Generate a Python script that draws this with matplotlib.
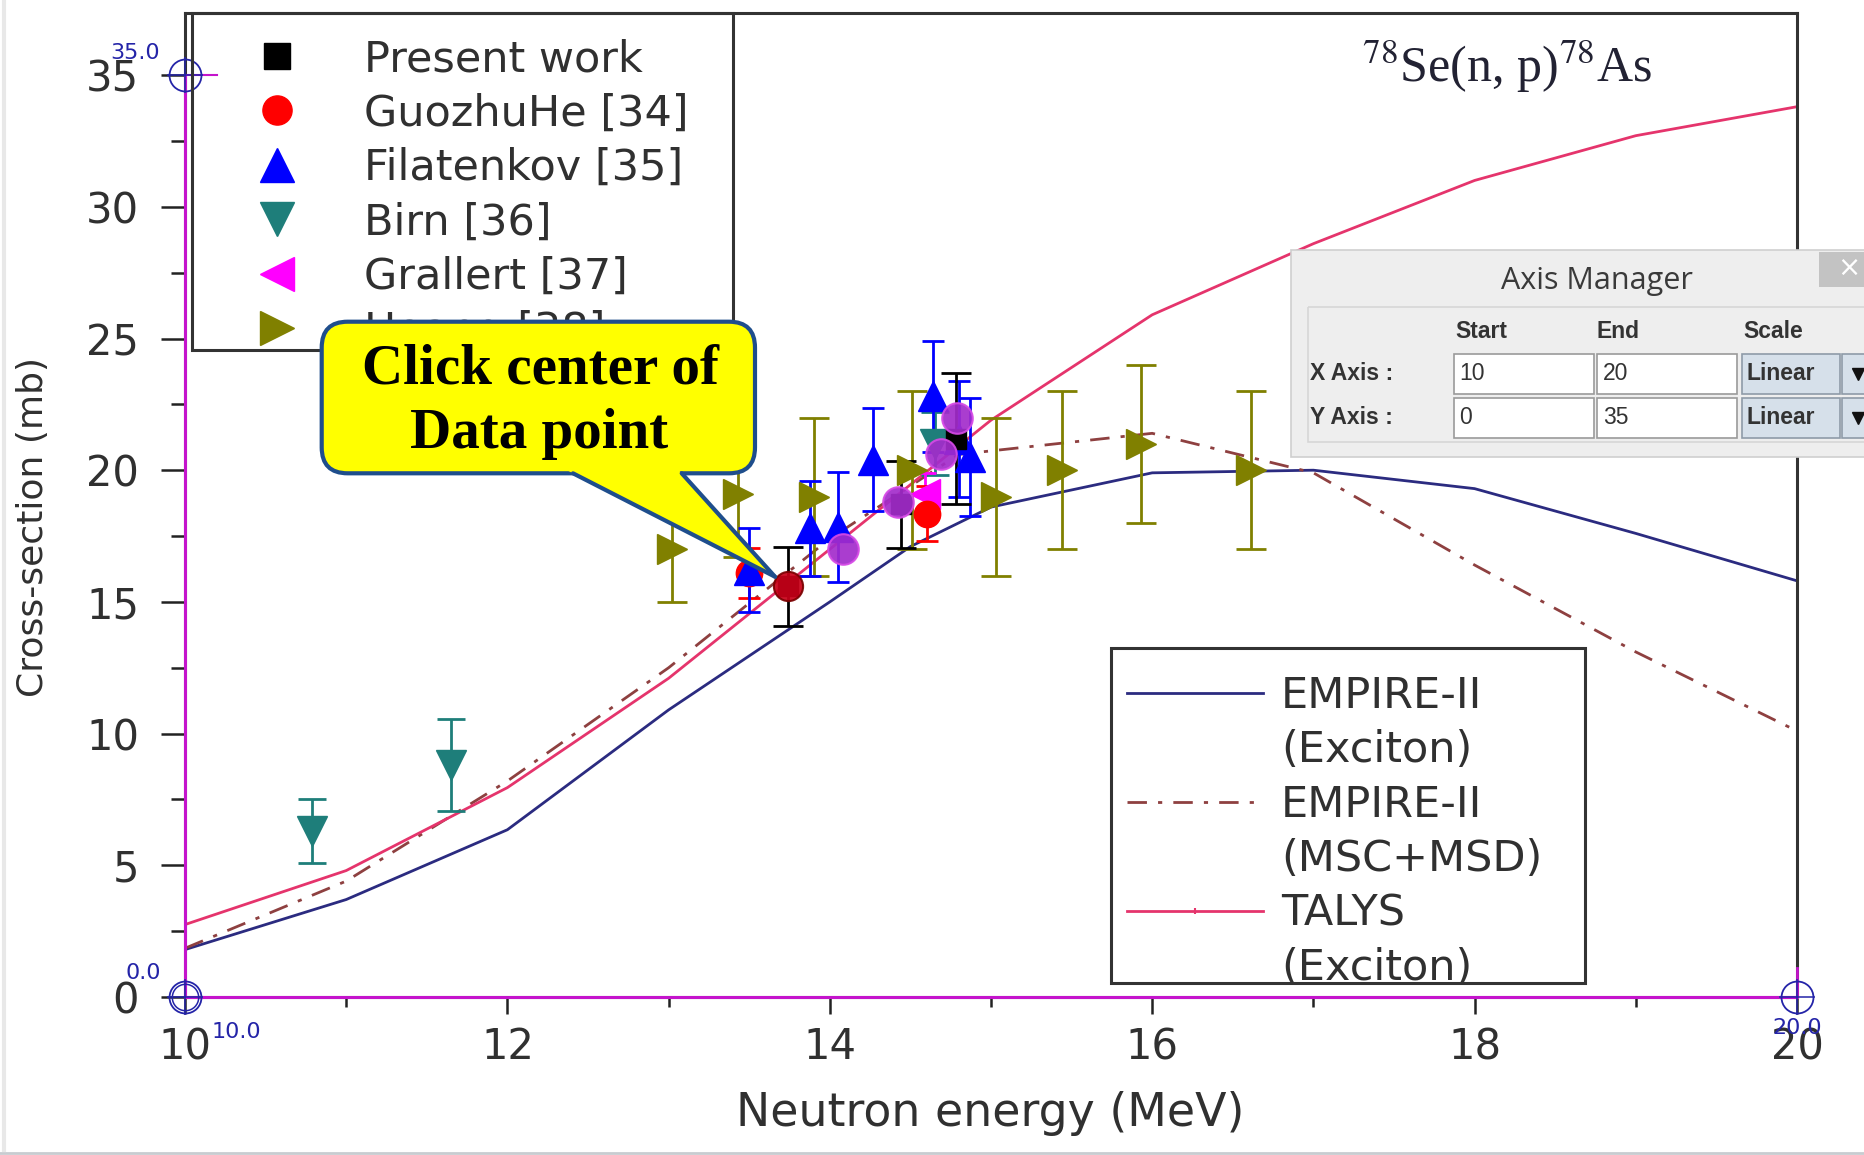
import matplotlib
matplotlib.use("Agg")
import matplotlib.pyplot as plt
from matplotlib.lines import Line2D
from matplotlib.patches import FancyBboxPatch, Polygon, Rectangle

plt.rcParams['font.family'] = ['DejaVu Sans']
plt.rcParams['mathtext.fontset'] = 'stix'

# --- theory curves (MeV, mb) ---
empire_exc_x = [10, 11, 12, 13, 14, 14.5, 15, 16, 17, 18, 19, 20]
empire_exc_y = [1.8, 3.7, 6.35, 10.9, 15.0, 17.1, 18.6, 19.9, 20.0, 19.3, 17.6, 15.8]

empire_msd_x = [10, 11, 12, 13, 14, 14.8, 16, 17, 18, 19, 20]
empire_msd_y = [1.85, 4.4, 8.2, 12.5, 17.4, 20.6, 21.4, 19.9, 16.4, 13.1, 10.1]

talys_x = [10, 11, 12, 13, 14, 15, 16, 17, 18, 19, 20]
talys_y = [2.75, 4.8, 7.95, 12.1, 17.0, 21.9, 25.9, 28.6, 31.0, 32.7, 33.8]

# --- measured points: energy, cross-section, error ---
present_x = [13.74, 14.44, 14.78]
present_y = [15.6, 18.7, 21.2]
present_err = [1.5, 1.65, 2.5]

guozhu_x = [13.5, 14.6]
guozhu_y = [16.1, 18.35]
guozhu_err = [0.95, 1.05]

filat_x = [13.5, 13.88, 14.05, 14.27, 14.64, 14.8, 14.87]
filat_y = [16.2, 17.8, 17.85, 20.4, 22.8, 21.2, 20.5]
filat_err = [1.6, 1.8, 2.1, 1.95, 2.1, 2.2, 2.25]

birn_x = [10.79, 11.65, 14.65]
birn_y = [6.3, 8.8, 21.0]
birn_err = [1.2, 1.75, 1.2]

grallert_x = [14.59]
grallert_y = [19.1]
grallert_err = [0.8]

hoang_x = [13.02, 13.43, 13.9, 14.51, 15.03, 15.44, 15.93, 16.61]
hoang_y = [17.0, 19.1, 19.0, 20.0, 19.0, 20.0, 21.0, 20.0]
hoang_err = [2, 2.4, 3, 3, 3, 3, 3, 3]

exp_labels = ['Present work', 'GuozhuHe [34]', 'Filatenkov [35]',
              'Birn [36]', 'Grallert [37]', 'Hoang [38]']
theory_labels = ['EMPIRE-II', '(Exciton)', 'EMPIRE-II', '(MSC+MSD)',
                 'TALYS', '(Exciton)']

# points already clicked in the digitizer, and the one being clicked now
picked_x = [14.08, 14.42, 14.69, 14.79]
picked_y = [17.0, 18.8, 20.6, 22.0]
active_x = [13.74]
active_y = [15.6]

# calibration typed in the Axis Manager
x_axis_range = [10, 20]
y_axis_range = [0, 35]

x_ticks = [10, 12, 14, 16, 18, 20]
y_ticks = [0, 5, 10, 15, 20, 25, 30, 35]

W, H = 1865, 1155
fig = plt.figure(figsize=(W / 100, H / 100), dpi=100)


def fig_box(x0, y0, x1, y1):
    # pixel box with top-left origin -> figure fraction rect
    return [x0 / W, 1 - y1 / H, (x1 - x0) / W, (y1 - y0) / H]


ax = fig.add_axes(fig_box(185, 13, 1797, 997))
ov = fig.add_axes([0, 0, 1, 1], zorder=5)
ov.set_xlim(0, W)
ov.set_ylim(H, 0)
ov.axis('off')

txt = '#303030'

# theory lines
ax.plot(empire_exc_x, empire_exc_y, color='#2B2B80', lw=2, zorder=2)
ax.plot(empire_msd_x, empire_msd_y, color='#8E4040', lw=2,
        ls=(0, (7, 4, 1.5, 4)), zorder=2)
ax.plot(talys_x, talys_y, color='#E5346C', lw=2, zorder=2)


def points(x, y, err, marker, color, ms, cap):
    ax.errorbar(x, y, yerr=err, fmt=marker, color=color, ms=ms, capsize=cap,
                elinewidth=2, capthick=2, zorder=4)


points(hoang_x, hoang_y, hoang_err, '>', '#808000', 22, 10.5)
points(birn_x, birn_y, birn_err, 'v', '#1E7E7A', 22, 10)
points(grallert_x, grallert_y, grallert_err, '<', '#FF00FF', 22, 8)
points(guozhu_x, guozhu_y, guozhu_err, 'o', '#FF0000', 19, 8)
points(filat_x, filat_y, filat_err, '^', '#0000FF', 22, 8)
points(present_x, present_y, present_err, 's', 'black', 15, 10.5)

# digitizer marks
ax.plot(picked_x, picked_y, 'o', ms=22, mfc='#A32CCB', mec='#D64AE6',
        mew=1.5, alpha=0.92, zorder=11)
ax.plot(active_x, active_y, 'o', ms=21, mfc='#C80018', mec='#7A0000',
        mew=1.5, alpha=0.92, zorder=11)

x0, x1 = x_axis_range
y0, y1 = y_axis_range
mag = '#C414CC'
ax.plot([x0, x0], [y0, y1], color=mag, lw=2.2, clip_on=False, zorder=9)
ax.plot([x0, x1], [y0, y0], color=mag, lw=2.2, clip_on=False, zorder=9)
ax.plot([x0, x0 + 0.2], [y1, y1], color=mag, lw=1.5, clip_on=False, zorder=9)
ax.plot([x1, x1], [y0, y0 + 1.1], color=mag, lw=2, clip_on=False, zorder=9)

blue = '#2424A8'
calib = [(x0, y1), (x0, y0), (x1, y0)]
for cx, cy in calib:
    ax.plot(cx, cy, 'o', ms=23, mfc='none', mec=blue, mew=1.3,
            clip_on=False, zorder=12)
    ax.plot(cx, cy, '+', ms=26, mec=blue, mew=1.1, clip_on=False, zorder=12)
ax.plot(x0, y0, 'o', ms=19, mfc='none', mec=blue, mew=1.1,
        clip_on=False, zorder=12)

lab = dict(fontsize=16, color=blue, textcoords='offset points',
           annotation_clip=False, zorder=12)
ax.annotate(f'{y1:.1f}', (x0, y1), xytext=(-54, 9), ha='left', va='bottom', **lab)
ax.annotate(f'{y0:.1f}', (x0, y0), xytext=(-43, 10), ha='left', va='bottom', **lab)
ax.annotate(f'{x0:.1f}', (x0, y0), xytext=(19, -18), ha='left', va='top', **lab)
ax.annotate(f'{x1:.1f}', (x1, y0), xytext=(0, -15), ha='center', va='top', **lab)

# axes styling
ax.set_xlim(10, 20)
ax.set_ylim(0, (997 - 13) / 26.34)
ax.set_xticks(x_ticks)
ax.set_xticks([11, 13, 15, 17, 19], minor=True)
ax.set_yticks(y_ticks)
ax.set_yticks([2.5, 7.5, 12.5, 17.5, 22.5, 27.5, 32.5], minor=True)
ax.tick_params(axis='y', which='major', length=17, width=1.8, labelsize=30,
               pad=16, color='#222222', labelcolor=txt)
ax.tick_params(axis='y', which='minor', length=10, width=1.8, color='#222222')
ax.tick_params(axis='x', which='major', length=12, width=1.8, labelsize=30,
               pad=9, color='#222222', labelcolor=txt)
ax.tick_params(axis='x', which='minor', length=7, width=1.8, color='#222222')
for sp in ax.spines.values():
    sp.set_linewidth(2.2)
    sp.set_color('#333333')

fig.text(990 / W, 1 - 1114 / H, 'Neutron energy (MeV)', ha='center',
         va='center', fontsize=33, color=txt)
fig.text(33 / W, 1 - 527 / H, 'Cross-section (mb)', rotation=90, ha='center',
         va='center', fontsize=26, color=txt)

# legend of measurements
exp_handles = [
    Line2D([], [], ls='none', marker='s', color='black', ms=19),
    Line2D([], [], ls='none', marker='o', color='#FF0000', ms=21),
    Line2D([], [], ls='none', marker='^', color='#0000FF', ms=25),
    Line2D([], [], ls='none', marker='v', color='#1E7E7A', ms=25),
    Line2D([], [], ls='none', marker='<', color='#FF00FF', ms=25),
    Line2D([], [], ls='none', marker='>', color='#808000', ms=25),
]
leg1 = ax.legend(exp_handles, exp_labels, loc='upper left',
                 bbox_to_anchor=(240, 38), bbox_transform=ov.transData,
                 frameon=False, borderpad=0, borderaxespad=0,
                 handlelength=1.72, handletextpad=1.16, labelspacing=0.29,
                 prop={'size': 31}, numpoints=1, labelcolor=txt)
ax.add_artist(leg1)

blank = Line2D([], [], ls='none')
theory_handles = [
    Line2D([], [], color='#2B2B80', lw=2), blank,
    Line2D([], [], color='#8E4040', lw=2, ls=(0, (7, 4, 1.5, 4))), blank,
    Line2D([], [], color='#E5346C', lw=2, marker='|', ms=5, mew=1.5), blank,
]
ax.legend(theory_handles, theory_labels, loc='upper left',
          bbox_to_anchor=(1127, 675), bbox_transform=ov.transData,
          frameon=False, borderpad=0, borderaxespad=0,
          handlelength=3.16, handletextpad=0.42, labelspacing=0.29,
          prop={'size': 31}, numpoints=1, labelcolor=txt)

# legend frames
ov.add_patch(Rectangle((192, 13), 541, 337, fc='none', ec='#333333', lw=2.2, zorder=1))
ov.add_patch(Rectangle((1111, 648), 474, 335, fc='none', ec='#333333', lw=2.2, zorder=1))

# reaction label
ov.text(1362, 82, r'$^{78}$Se(n, p)$^{78}$As', family='Liberation Serif',
        fontsize=36, color='#222233', ha='left', va='baseline', zorder=2)

# callout
edge = '#1F4E8C'
ov.add_patch(FancyBboxPatch((321.7, 321.7), 433.3, 151.6,
                            boxstyle='round,pad=0,rounding_size=26',
                            fc='#FFFF00', ec=edge, lw=3, zorder=3))
bx0, bx1, by = 573.0, 681.7, 473.3
tip = (775.0, 576.7)
top = 464.0
sl0 = (tip[0] - bx0) / (tip[1] - by)
sl1 = (tip[0] - bx1) / (tip[1] - by)
ov.add_patch(Polygon([(bx0 - sl0 * (by - top), top), (bx1 - sl1 * (by - top), top), tip],
                     closed=True, fc='#FFFF00', ec='none', zorder=3.1))
ov.plot([bx0, tip[0]], [by, tip[1]], color=edge, lw=3, solid_capstyle='round', zorder=3.2)
ov.plot([bx1, tip[0]], [by, tip[1]], color=edge, lw=3, solid_capstyle='round', zorder=3.2)
ov.text(540, 384, 'Click center of', family='Liberation Serif', fontweight='bold',
        fontsize=41, ha='center', va='baseline', color='black', zorder=3.3)
ov.text(539, 448, 'Data point', family='Liberation Serif', fontweight='bold',
        fontsize=41, ha='center', va='baseline', color='black', zorder=3.3)

# Axis Manager dialog
ov.add_patch(Rectangle((1291, 250), 600, 207, fc='#EEEEEE', ec='#CFCFCF', lw=1.2, zorder=6))
ov.text(1597, 281, 'Axis Manager', family='Open Sans', fontsize=22,
        color='#3A3A3A', ha='center', va='center', zorder=7)
ov.add_patch(Rectangle((1819, 252), 60, 35, fc='#C3C3C3', ec='none', zorder=7))
ov.text(1849, 268, '×', color='white', fontsize=20, ha='center', va='center', zorder=8)
ov.add_patch(Rectangle((1308, 307), 600, 135, fc='none', ec='#D6D6D6', lw=1.2, zorder=7))

ui = dict(family='Liberation Sans', fontsize=16.5, color='#333333',
          va='center', ha='left', zorder=8)
for head, hx in zip(['Start', 'End', 'Scale'], [1455, 1597, 1743]):
    ov.text(hx, 331, head, fontweight='bold', **ui)
for name, (lo, hi), yc in [('X Axis :', x_axis_range, 374),
                           ('Y Axis :', y_axis_range, 418)]:
    ov.text(1310, yc, name, fontweight='bold', **ui)
    for fx0, val in [(1453.5, lo), (1597, hi)]:
        ov.add_patch(Rectangle((fx0, yc - 20), 140, 40, fc='white',
                               ec='#9A9A9A', lw=1.2, zorder=7))
        ov.text(fx0 + 6, yc, str(val), **ui)
    ov.add_patch(Rectangle((1741.6, yc - 20), 98, 40, fc='#D6E0EA',
                           ec='#8E9BA8', lw=1.2, zorder=7))
    ov.text(1747, yc, 'Linear', fontweight='bold', **ui)
    ov.add_patch(Rectangle((1841.6, yc - 20), 40, 40, fc='#D6E0EA',
                           ec='#8E9BA8', lw=1.2, zorder=7))
    ov.plot(1858, yc, 'v', color='#111111', ms=9, zorder=8)

# screenshot edges
ov.plot([0, W], [1153, 1153], color='#C8CCD0', lw=2, zorder=1)
ov.plot([4, 4], [0, 1150], color='#E8E8E8', lw=3, zorder=1)

fig.savefig('out.png', dpi=100)
